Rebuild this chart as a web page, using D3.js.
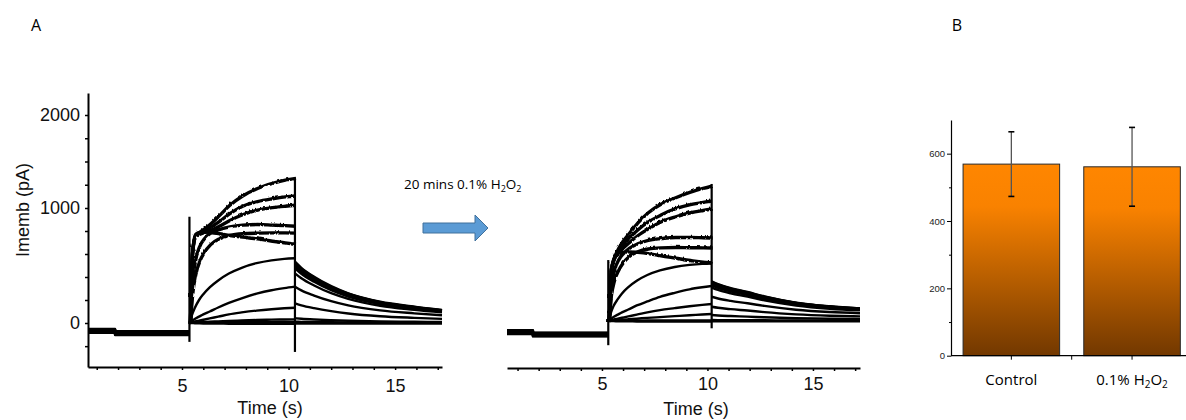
<!DOCTYPE html>
<html><head><meta charset="utf-8">
<script src="https://cdn.jsdelivr.net/npm/d3@7"></script>
<style>body{margin:0;background:#fff}svg{display:block}</style>
</head><body>
<svg id="fig" width="1186" height="420"></svg>
<script>
// ---------- Panel A: membrane current families (pA) ----------
// Control recording
const tBreakCtrl = 1.86;             // small shift of the holding current
const tStartCtrl = 0.59;
const holdEarlyCtrl = [-52,-55,-58,-61,-64,-67,-70,-73,-76,-79,-82,-85];
const holdLateCtrl  = [-70,-73,-76,-79,-82,-85,-88,-91,-94,-97,-100,-103];
const tActCtrl = [5.35,5.45,5.6,5.8,6.0,6.3,6.7,7.2,7.8,8.5,9.2,9.8,10.3];
const actCtrl = [
  [0,620,770,800,826,870,940,1040,1140,1220,1275,1310,1330],
  [0,620,770,790,810,840,890,960,1030,1080,1110,1130,1140],
  [0,610,760,780,795,815,850,900,950,990,1015,1030,1040],
  [0,350,560,680,740,790,820,845,860,865,860,855,850],
  [0,250,430,550,620,690,740,770,785,790,792,792,790],
  [0,620,780,795,800,795,785,770,755,740,720,705,693],
  [0,60,130,200,250,310,370,430,480,520,545,558,563],
  [0,15,35,55,75,100,135,175,215,255,285,303,316],
  [0,5,12,20,28,40,55,75,92,108,120,128,133],
  [0,2,4,6,8,11,14,18,22,26,29,31,32],
  [0,1,2,3,4,5,6,7,8,9,10,10,10],
  [0,0,-2,-3,-4,-5,-5,-6,-6,-6,-6,-6,-6]
];
const tTailCtrl = [10.3,10.6,11.2,12,12.8,14.3,15.9,17.2];
const tailCtrl = [
  [533,480,402,320,258,185,142,113],
  [525,472,396,315,255,182,140,111],
  [515,463,389,309,250,179,137,109],
  [500,450,378,300,243,174,133,106],
  [490,441,370,294,238,170,130,104],
  [475,428,359,285,230,165,126,100],
  [432,389,326,259,210,150,115,92],
  [316,284,239,190,153,110,84,67],
  [171,154,129,103,83,59,45,36],
  [41,37,31,25,20,14,11,9],
  [11,10,8,7,5,4,3,2],
  [-4,-4,-4,-4,-4,-4,-4,-4]
];
const spikeTCtrl  = [5.35, 10.3];
const spikeLoCtrl = [-163, -250];
const spikeHiCtrl = [924, 1330];

// After 20 min in 0.1% H2O2
const tBreakH = 1.73;
const tStartH = 0.5;
const holdEarlyH = [-80,-83,-86,-89,-92,-95,-98,-101,-104,-107,-110,-113];
const holdLateH  = [-100,-103,-106,-109,-112,-115,-118,-121,-124,-127,-130,-133];
const tActH = [5.3,5.4,5.55,5.75,5.95,6.25,6.65,7.15,7.75,8.45,9.15,9.75,10.2];
const actH = [
  [0,450,560,640,700,770,860,950,1030,1100,1160,1200,1226],
  [0,450,555,620,670,730,800,870,930,985,1025,1050,1065],
  [0,440,550,600,640,690,750,810,870,915,950,970,983],
  [0,300,450,540,590,640,680,710,725,735,735,732,730],
  [0,220,360,450,510,570,610,635,645,648,646,645,643],
  [0,440,560,590,605,610,605,595,575,555,535,520,513],
  [0,60,130,190,240,295,350,400,440,470,488,497,500],
  [0,15,35,55,75,100,135,170,210,245,275,293,304],
  [0,5,12,20,28,40,55,75,95,112,128,140,148],
  [0,2,5,8,11,15,20,27,34,42,50,56,61],
  [0,1,1,2,2,3,3,4,4,5,5,5,5],
  [0,0,-1,-2,-3,-3,-4,-4,-4,-4,-4,-4,-4]
];
const tTailH = [10.2,10.5,11.1,11.9,12.7,14.2,15.8,17.23];
const tailH = [
  [345,321,286,252,214,160,128,110],
  [340,316,282,248,211,158,126,109],
  [335,312,278,245,208,156,124,107],
  [325,302,270,237,202,151,120,104],
  [318,296,264,232,197,148,118,102],
  [310,288,257,226,192,144,115,99],
  [290,270,241,212,180,135,107,93],
  [211,196,175,154,131,98,78,68],
  [124,115,103,91,77,58,46,40],
  [52,48,43,38,32,24,19,17],
  [9,8,7,7,6,4,3,3],
  [-3,-3,-3,-3,-3,-3,-3,-3]
];
const spikeTH  = [5.3, 10.2];
const spikeLoH = [-209, -63];
const spikeHiH = [530, 1237];

// traces large enough to show visible recording noise
const noisyTraces = [0, 1, 2, 3, 4, 5];

// Axis ticks of panel A
const yTickLabels = [0, 1000, 2000];
const yMinorTicks = [-200, 200, 400, 600, 800, 1250, 1500, 1750];
const xTickLabels = [5, 10, 15];
const xMinorTicks = [1,2,3,4,6,7,8,9,11,12,13,14,16,17];

// ---------- Panel B: mean amplitude ----------
const groups = ["Control", "0.1% H2O2"];
const means  = [569, 561];
const errs   = [96, 117];
const barTicks = [0, 200, 400, 600];
const barMinor = [100, 300, 500];

const svg = d3.select("#fig");
const black = "#000";

const defs = svg.append("defs");
// gradient for the bars
const grad = defs.append("linearGradient").attr("id","barGrad")
  .attr("x1",0).attr("y1",0).attr("x2",0).attr("y2",1);
grad.append("stop").attr("offset","0").attr("stop-color","#ff8600");
grad.append("stop").attr("offset","0.22").attr("stop-color","#f98200");
grad.append("stop").attr("offset","1").attr("stop-color","#723800");

// jitter filter: gives large currents their ragged, noisy look
const jit = defs.append("filter").attr("id","jitter").attr("filterUnits","userSpaceOnUse")
  .attr("x",0).attr("y",0).attr("width",1186).attr("height",420);
jit.append("feTurbulence").attr("type","turbulence").attr("baseFrequency","0.35 0.12")
  .attr("numOctaves",1).attr("seed",4).attr("result","n");
jit.append("feDisplacementMap").attr("in","SourceGraphic").attr("in2","n")
  .attr("scale",2.6).attr("xChannelSelector","A").attr("yChannelSelector","R");

// shared current scale (piecewise, following the printed calibration)
const yDomain = [-380, 0, 1000, 2000, 2240];
const yL = d3.scaleLinear().domain(yDomain).range([367, 323, 208, 115, 93]);
const yR = d3.scaleLinear().domain(yDomain).range([365, 321, 206, 113, 91]);
const xL = d3.scaleLinear().domain([0.59, 17.2]).range([88, 442]);
const xR = d3.scaleLinear().domain([0.5, 17.23]).range([507, 860]);

function drawTraces(g, x, y, rec) {
  const lin = d3.line().x(d => x(d[0])).y(d => y(d[1]));
  const smooth = d3.line().x(d => x(d[0])).y(d => y(d[1])).curve(d3.curveMonotoneX);
  const traces = g.append("g").attr("fill","none").attr("stroke",black)
    .attr("stroke-width",2.4).attr("stroke-linejoin","round");
  const noisy = traces.append("g").attr("filter","url(#jitter)").attr("stroke-width",3.4);
  rec.act.forEach((vals, i) => {
    const hold = [[rec.tStart, rec.holdEarly[i]], [rec.tBreak, rec.holdEarly[i]],
                  [rec.tBreak, rec.holdLate[i]], [rec.tAct[0], rec.holdLate[i]]];
    traces.append("path").attr("d", lin(hold));
    const target = noisyTraces.includes(i) ? noisy : traces;
    target.append("path").attr("d", smooth(rec.tAct.map((t, j) => [t, vals[j]])));
    traces.append("path").attr("d", smooth(rec.tTail.map((t, j) => [t, rec.tail[i][j]])));
  });
  rec.spikeT.forEach((t, k) => {
    g.append("line").attr("x1", x(t)).attr("x2", x(t))
      .attr("y1", y(rec.spikeLo[k])).attr("y2", y(rec.spikeHi[k]))
      .attr("stroke", black).attr("stroke-width", 2.2);
  });
}

const fontA = "'Liberation Sans', Arial, sans-serif";
const fontC = "'Open Sans', Lato, sans-serif";

function styleAxis(sel, fs) {
  sel.selectAll(".domain").attr("stroke", black).attr("stroke-width", 2);
  sel.selectAll(".tick line").attr("stroke", black).attr("stroke-width", 1.5);
  sel.selectAll(".tick text").attr("font-family", fontA)
    .attr("font-size", fs).attr("fill", "#111");
}
function minorTicks(s) {
  s.select(".domain").remove();
  s.selectAll("line").attr("stroke", black).attr("stroke-width", 1.5);
}

// ----- Panel A, control -----
const gA = svg.append("g");
drawTraces(gA, xL, yL, {tStart:tStartCtrl, tBreak:tBreakCtrl, holdEarly:holdEarlyCtrl,
  holdLate:holdLateCtrl, tAct:tActCtrl, act:actCtrl, tTail:tTailCtrl, tail:tailCtrl,
  spikeT:spikeTCtrl, spikeLo:spikeLoCtrl, spikeHi:spikeHiCtrl});

const yAx = gA.append("g").attr("transform","translate(88,0)")
  .call(d3.axisLeft(yL).tickValues(yTickLabels).tickFormat(d3.format("d"))
    .tickSize(3).tickSizeOuter(0).tickPadding(5));
styleAxis(yAx, 18);
gA.append("g").attr("transform","translate(88,0)")
  .call(d3.axisLeft(yL).tickValues(yMinorTicks).tickSize(3).tickFormat(""))
  .call(minorTicks);

const xAx = gA.append("g").attr("transform","translate(0,367)")
  .call(d3.axisBottom(xL).tickValues(xTickLabels).tickSize(3).tickSizeOuter(0).tickPadding(9));
styleAxis(xAx, 18);
gA.append("g").attr("transform","translate(0,367)")
  .call(d3.axisBottom(xL).tickValues(xMinorTicks).tickSize(3).tickFormat(""))
  .call(minorTicks);

gA.append("text").attr("transform","translate(29,210) rotate(-90)")
  .attr("text-anchor","middle").attr("font-family",fontA).attr("font-size",18)
  .attr("fill","#111").text("Imemb (pA)");
gA.append("text").attr("x",270).attr("y",414).attr("text-anchor","middle")
  .attr("font-family",fontA).attr("font-size",18).attr("fill","#111").text("Time (s)");

// ----- Panel A, H2O2 -----
const gH = svg.append("g");
drawTraces(gH, xR, yR, {tStart:tStartH, tBreak:tBreakH, holdEarly:holdEarlyH,
  holdLate:holdLateH, tAct:tActH, act:actH, tTail:tTailH, tail:tailH,
  spikeT:spikeTH, spikeLo:spikeLoH, spikeHi:spikeHiH});
const xAx2 = gH.append("g").attr("transform","translate(0,368)")
  .call(d3.axisBottom(xR).tickValues(xTickLabels).tickSize(3).tickSizeOuter(0).tickPadding(6));
styleAxis(xAx2, 18);
gH.append("g").attr("transform","translate(0,368)")
  .call(d3.axisBottom(xR).tickValues(xMinorTicks).tickSize(3).tickFormat(""))
  .call(minorTicks);
gH.append("text").attr("x",696).attr("y",415).attr("text-anchor","middle")
  .attr("font-family",fontA).attr("font-size",18).attr("fill","#111").text("Time (s)");

// treatment annotation
const ann = svg.append("text").attr("x",404).attr("y",189).attr("font-family",fontC)
  .attr("font-size",13.5).attr("fill","#000");
ann.append("tspan").text("20 mins 0.1% H");
ann.append("tspan").attr("font-size",9).attr("dy",3).text("2");
ann.append("tspan").attr("dy",-3).text("O");
ann.append("tspan").attr("font-size",9).attr("dy",3).text("2");

svg.append("path")
  .attr("d", d3.line()([[423,223],[475,223],[475,215],[488,228],[475,241],[475,233],[423,233]]) + "Z")
  .attr("fill","#5b9bd5").attr("stroke","#41719c").attr("stroke-width",1);

// panel letters
svg.append("text").attr("x",36).attr("y",31).attr("text-anchor","middle")
  .attr("font-family",fontC).attr("font-size",16).attr("fill","#000").text("A");
svg.append("text").attr("x",957).attr("y",31).attr("text-anchor","middle")
  .attr("font-family",fontC).attr("font-size",16).attr("fill","#000").text("B");

// ----- Panel B -----
const gB = svg.append("g");
const xB = d3.scaleBand().domain(groups).range([951, 1192.4]).paddingInner(0.2).paddingOuter(0.1);
const yB = d3.scaleLinear().domain([0, 700]).range([355.7, 120]);

gB.selectAll("rect.bar").data(groups).join("rect").attr("class","bar")
  .attr("x", d => xB(d)).attr("width", xB.bandwidth())
  .attr("y", (d, i) => yB(means[i])).attr("height", (d, i) => yB(0) - yB(means[i]))
  .attr("fill","url(#barGrad)").attr("stroke","#2a2a2a").attr("stroke-width",1);

groups.forEach((g, i) => {
  const cx = xB(g) + xB.bandwidth() / 2;
  gB.append("line").attr("x1",cx).attr("x2",cx)
    .attr("y1",yB(means[i] + errs[i])).attr("y2",yB(means[i] - errs[i]))
    .attr("stroke","#555").attr("stroke-width",1.3);
  [means[i] + errs[i], means[i] - errs[i]].forEach(v => {
    gB.append("line").attr("x1",cx - 3).attr("x2",cx + 3).attr("y1",yB(v)).attr("y2",yB(v))
      .attr("stroke","#000").attr("stroke-width",1.6);
  });
});

const yBx = gB.append("g").attr("transform","translate(951,0)")
  .call(d3.axisLeft(yB).tickValues(barTicks).tickSize(4).tickSizeOuter(0).tickPadding(2));
yBx.selectAll(".domain").attr("stroke","#000").attr("stroke-width",1.2);
yBx.selectAll(".tick line").attr("stroke","#000");
yBx.selectAll(".tick text").attr("font-family",fontA).attr("font-size",9.5).attr("fill","#222");
gB.append("g").attr("transform","translate(951,0)")
  .call(d3.axisLeft(yB).tickValues(barMinor).tickSize(2).tickFormat(""))
  .call(s => { s.select(".domain").remove(); s.selectAll("line").attr("stroke","#000"); });

// category axis
gB.append("line").attr("x1",951).attr("x2",1186).attr("y1",yB(0)).attr("y2",yB(0))
  .attr("stroke","#000").attr("stroke-width",1.2);
const catTicks = groups.map(g => xB(g) + xB.bandwidth() / 2)
  .concat([(xB(groups[0]) + xB.bandwidth() + xB(groups[1])) / 2]);
catTicks.forEach(cx => gB.append("line").attr("x1",cx).attr("x2",cx)
  .attr("y1",yB(0)).attr("y2",yB(0) + 4).attr("stroke","#000"));

groups.forEach(g => {
  const cx = xB(g) + xB.bandwidth() / 2;
  const t = gB.append("text").attr("x",cx).attr("y",385).attr("text-anchor","middle")
    .attr("font-family",fontC).attr("font-size",15).attr("fill","#000");
  const m = g.match(/^(.*H)2O2$/);
  if (m) {
    t.append("tspan").text(m[1]);
    t.append("tspan").attr("font-size",10).attr("dy",3).text("2");
    t.append("tspan").attr("dy",-3).text("O");
    t.append("tspan").attr("font-size",10).attr("dy",3).text("2");
  } else t.text(g);
});
</script>
</body></html>
